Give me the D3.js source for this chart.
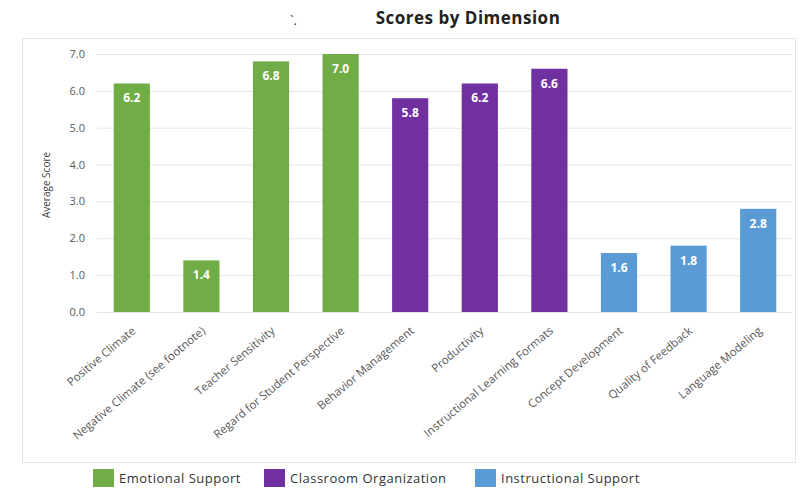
<!DOCTYPE html>
<html>
<head>
<meta charset="utf-8">
<script src="https://cdn.jsdelivr.net/npm/d3@7"></script>
<style>
  body { margin: 0; background: #fff; font-family: "Open Sans", Calibri, sans-serif; }
</style>
</head>
<body>
<div id="chart"></div>
<script>
var categories = ["Positive Climate", "Negative Climate (see footnote)", "Teacher Sensitivity",
  "Regard for Student Perspective", "Behavior Management", "Productivity",
  "Instructional Learning Formats", "Concept Development", "Quality of Feedback", "Language Modeling"];
var scores = [6.2, 1.4, 6.8, 7.0, 5.8, 6.2, 6.6, 1.6, 1.8, 2.8];
var domains = ["Emotional Support", "Emotional Support", "Emotional Support", "Emotional Support",
  "Classroom Organization", "Classroom Organization", "Classroom Organization",
  "Instructional Support", "Instructional Support", "Instructional Support"];
var groups = ["Emotional Support", "Classroom Organization", "Instructional Support"];
var groupColors = ["#70AD47", "#7030A0", "#5B9BD5"];
var yTicks = [0, 1, 2, 3, 4, 5, 6, 7];

var width = 807, height = 488;
var svg = d3.select("#chart").append("svg")
  .attr("width", width)
  .attr("height", height);

// outer chart frame
svg.append("rect")
  .attr("x", 22.5).attr("y", 38.5)
  .attr("width", 773).attr("height", 424)
  .attr("fill", "none").attr("stroke", "#e4e4e4");

// title
svg.append("text")
  .attr("x", 468).attr("y", 24)
  .attr("text-anchor", "middle")
  .style("font-weight", "bold").style("font-size", "17px").style("letter-spacing", "0.5px").style("fill", "#222")
  .text("Scores by Dimension");
svg.append("text")
  .attr("x", 290).attr("y", 25)
  .style("font-size", "13px").style("fill", "#333")
  .text("`.");

var color = d3.scaleOrdinal().domain(groups).range(groupColors);

var x = d3.scaleBand()
  .domain(categories)
  .range([97, 793])
  .paddingInner(0.48)
  .paddingOuter(0.24);

var y = d3.scaleLinear()
  .domain([0, 7])
  .range([312, 54]);

// gridlines
svg.append("g")
  .selectAll("line")
  .data(yTicks)
  .join("line")
  .attr("x1", 97).attr("x2", 793)
  .attr("y1", function(d) { return y(d) + 0.5; })
  .attr("y2", function(d) { return y(d) + 0.5; })
  .attr("stroke", "#e6e6e6");

// y axis labels
var yAxis = svg.append("g")
  .attr("transform", "translate(85,0)")
  .call(d3.axisLeft(y).tickValues(yTicks).tickSize(0).tickPadding(0).tickFormat(d3.format(".1f")));
yAxis.select(".domain").remove();
yAxis.selectAll("text")
  .style("font-family", "Open Sans, sans-serif")
  .style("font-size", "11px").style("fill", "#595959");

svg.append("text")
  .attr("transform", "translate(50,185) rotate(-90)")
  .attr("text-anchor", "middle")
  .style("font-size", "10px").style("fill", "#404040")
  .text("Average Score");

// bars
svg.append("g")
  .selectAll("rect")
  .data(categories)
  .join("rect")
  .attr("x", function(d) { return x(d); })
  .attr("y", function(d, i) { return y(scores[i]); })
  .attr("width", x.bandwidth())
  .attr("height", function(d, i) { return y(0) - y(scores[i]); })
  .attr("fill", function(d, i) { return color(domains[i]); });

// value labels
svg.append("g")
  .selectAll("text")
  .data(categories)
  .join("text")
  .attr("x", function(d) { return x(d) + x.bandwidth() / 2; })
  .attr("y", function(d, i) { return y(scores[i]) + 19; })
  .attr("text-anchor", "middle")
  .style("font-weight", "bold").style("font-size", "12px").style("fill", "#fff")
  .text(function(d, i) { return d3.format(".1f")(scores[i]); });

// x axis labels
var xAxis = svg.append("g")
  .attr("transform", "translate(0,312)")
  .call(d3.axisBottom(x).tickSize(0).tickPadding(0));
xAxis.select(".domain").remove();
xAxis.selectAll("text")
  .attr("text-anchor", "end")
  .attr("dy", "0.35em")
  .attr("transform", "translate(2,17) rotate(-40)")
  .style("font-family", "Open Sans, sans-serif")
  .style("font-size", "11.5px").style("fill", "#595959");

// legend
var legendX = [93, 264, 475];
var legend = svg.append("g")
  .selectAll("g")
  .data(groups)
  .join("g")
  .attr("transform", function(d, i) { return "translate(" + legendX[i] + ",469)"; });
legend.append("rect")
  .attr("width", 21).attr("height", 18)
  .attr("fill", function(d) { return color(d); });
legend.append("text")
  .attr("x", 26).attr("y", 14)
  .style("font-size", "13px").style("letter-spacing", "0.5px").style("fill", "#333")
  .text(function(d) { return d; });
</script>
</body>
</html>
